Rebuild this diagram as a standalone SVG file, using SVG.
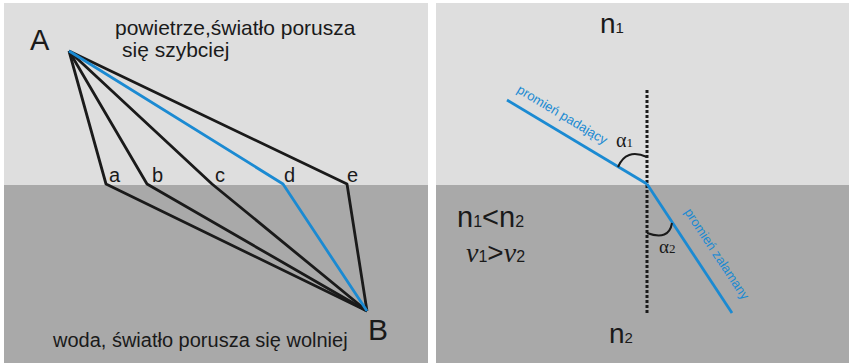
<svg xmlns="http://www.w3.org/2000/svg" width="849" height="363" viewBox="0 0 849 363">
<style>
.air{fill:#dedede}
.water{fill:#a9a9a9}
.ray{fill:none;stroke:#1a1a1a;stroke-width:2.8;stroke-linejoin:round}
.blue{fill:none;stroke:#1b8ad2;stroke-width:2.8;stroke-linejoin:round}
.arc{fill:none;stroke:#1a1a1a;stroke-width:2}
.normal{stroke:#1a1a1a;stroke-width:3;stroke-dasharray:3 2}
.t{font-family:"Liberation Sans",Arial,sans-serif;fill:#1a1a1a}
.s{font-family:"Liberation Serif","Times New Roman",serif;fill:#1a1a1a}
.bt{font-family:"Liberation Sans",Arial,sans-serif;fill:#1b8ad2;font-size:13px}
</style>
<rect width="849" height="363" fill="#ffffff"/>
<g id="left-panel">
<rect class="air" x="4" y="3" width="424" height="182"/>
<rect class="water" x="4" y="185" width="424" height="178"/>
</g>
<g id="right-panel">
<rect class="air" x="436" y="3" width="413" height="182"/>
<rect class="water" x="436" y="185" width="413" height="178"/>
</g>
<g id="connectors">
<polyline class="ray" points="69,51 106,184 367,311"/>
<polyline class="ray" points="69,51 147,184 367,311"/>
<polyline class="ray" points="69,51 212,184 367,311"/>
<polyline class="ray" points="69,51 347,184 367,311"/>
<polyline class="blue" points="69,51 283,184 367,311"/>
<line class="normal" x1="647" y1="90" x2="647" y2="313"/>
<line class="blue" x1="507" y1="100" x2="647" y2="184"/>
<line class="blue" x1="647" y1="184" x2="732" y2="313"/>
<path class="arc" d="M618,167 Q626,148 647,157"/>
<path class="arc" d="M647,233 Q669,241 672,223"/>
</g>
<g id="node-A"><text class="t" x="30" y="50" font-size="29">A</text></g>
<g id="node-B"><text class="t" x="368" y="340" font-size="30">B</text></g>
<g id="labels-points">
<text class="t" x="109" y="182" font-size="20">a</text>
<text class="t" x="152" y="182" font-size="20">b</text>
<text class="t" x="215" y="182" font-size="20">c</text>
<text class="t" x="284" y="182" font-size="20">d</text>
<text class="t" x="347" y="182" font-size="20">e</text>
</g>
<g id="air-label">
<text class="t" x="115" y="35" font-size="21">powietrze,światło porusza</text>
<text class="t" x="122" y="57" font-size="21">się szybciej</text>
</g>
<g id="water-label"><text class="t" x="53" y="347" font-size="20">woda, światło porusza się wolniej</text></g>
<g id="n1"><text class="t" x="600" y="33" font-size="28">n<tspan font-size="15">1</tspan></text></g>
<g id="n2"><text class="t" x="609" y="343" font-size="28">n<tspan font-size="15">2</tspan></text></g>
<g id="relation-n"><text class="t" x="457" y="227" font-size="29">n<tspan font-size="16">1</tspan>&lt;n<tspan font-size="16">2</tspan></text></g>
<g id="relation-v"><text class="s" x="466" y="262" font-size="28"><tspan font-style="italic">v</tspan><tspan font-size="16" font-family="Liberation Sans, sans-serif">1</tspan><tspan font-family="Liberation Sans, sans-serif">&gt;</tspan><tspan font-style="italic">v</tspan><tspan font-size="16" font-family="Liberation Sans, sans-serif">2</tspan></text></g>
<g id="alpha1"><text class="s" x="616" y="147" font-size="20">α<tspan font-size="13">1</tspan></text></g>
<g id="alpha2"><text class="s" x="659" y="253" font-size="19">α<tspan font-size="13">2</tspan></text></g>
<g id="label-incident"><text class="bt" transform="translate(516,92) rotate(31)">promień padający</text></g>
<g id="label-refracted"><text class="bt" transform="translate(684,212) rotate(56.6)">promień załamany</text></g>
</svg>
